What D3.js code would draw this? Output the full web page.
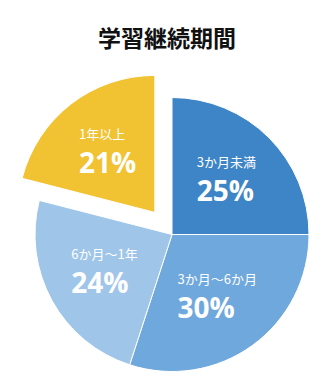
<!DOCTYPE html>
<html>
<head>
<meta charset="utf-8">
<script src="https://cdn.jsdelivr.net/npm/d3@7/dist/d3.min.js"></script>
<style>
  html, body { margin: 0; padding: 0; background: #fff; }
  svg { display: block; }
</style>
</head>
<body>
<svg id="chart" width="330" height="378"></svg>
<script>
// Learning duration breakdown
const title = "学習継続期間";
const categories = ["3か月未満", "3か月〜6か月", "6か月〜1年", "1年以上"];
const values = [25, 30, 24, 21];
const colors = ["#3d85c6", "#6fa8dc", "#9fc5e8", "#f1c232"];
const explodedCategory = "1年以上";

const width = 330, height = 378;
const cx = 172, cy = 234.5, radius = 137;
const explodeDist = 28;
const labelRadius = 77;

const svg = d3.select("#chart");

svg.append("text")
  .attr("x", 167)
  .attr("y", 47)
  .attr("text-anchor", "middle")
  .attr("font-family", "'Noto Sans CJK JP', sans-serif")
  .attr("font-weight", "bold")
  .attr("font-size", 23)
  .attr("fill", "#111")
  .text(title);

const data = categories.map((c, i) => ({ category: c, value: values[i], color: colors[i] }));

const pie = d3.pie().sort(null).value(d => d.value).startAngle(0).endAngle(2 * Math.PI);
const arcs = pie(data);

const arc = d3.arc().innerRadius(0).outerRadius(radius);
const labelArc = d3.arc().innerRadius(labelRadius).outerRadius(labelRadius);

const g = svg.append("g").attr("transform", `translate(${cx},${cy})`);

function offsetOf(a) {
  if (a.data.category !== explodedCategory) return [0, 0];
  const mid = (a.startAngle + a.endAngle) / 2;
  return [Math.sin(mid) * explodeDist, -Math.cos(mid) * explodeDist];
}

const slices = g.selectAll("g.slice")
  .data(arcs)
  .join("g")
  .attr("class", "slice")
  .attr("transform", a => {
    const [dx, dy] = offsetOf(a);
    return `translate(${dx},${dy})`;
  });

slices.append("path")
  .attr("d", arc)
  .attr("fill", a => a.data.color)
  .attr("stroke", "#fff")
  .attr("stroke-width", 1);

// Two-line labels: category name above, bold percentage below, left-aligned as a block
slices.each(function (a) {
  const sel = d3.select(this);
  const [lx, ly] = labelArc.centroid(a);
  const lab = sel.append("g");
  const t1 = lab.append("text")
    .attr("font-family", "'Noto Sans CJK JP', sans-serif")
    .attr("font-size", 13)
    .attr("fill", "#fff")
    .attr("y", -13)
    .text(a.data.category);
  const t2 = lab.append("text")
    .attr("font-family", "'Open Sans', sans-serif")
    .attr("font-weight", "bold")
    .attr("font-size", 28)
    .attr("fill", "#fff")
    .attr("y", 21)
    .text(a.data.value + "%");
  const w = Math.max(t1.node().getComputedTextLength(), t2.node().getComputedTextLength());
  lab.attr("transform", `translate(${lx - w / 2},${ly})`);
});
</script>
</body>
</html>
